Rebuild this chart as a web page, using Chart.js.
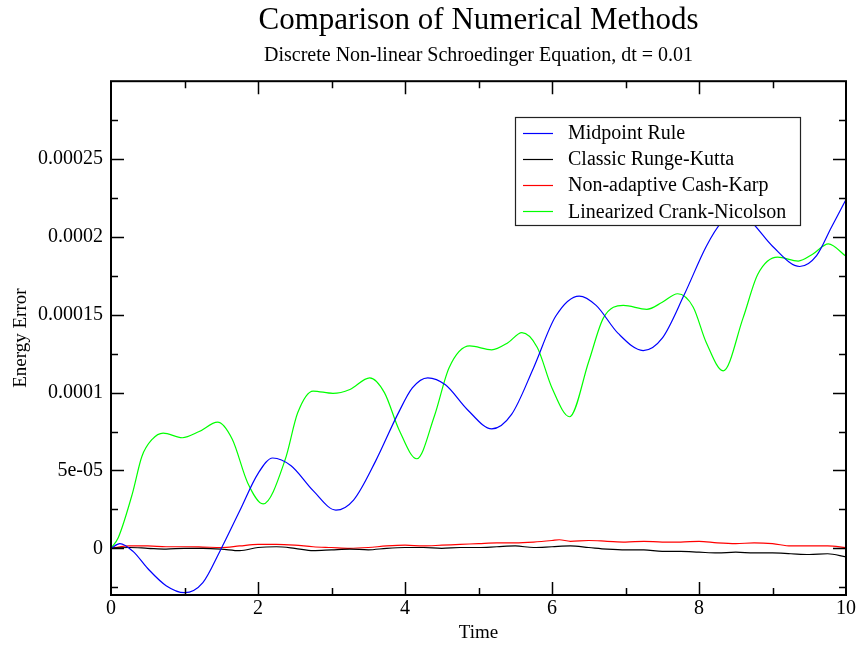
<!DOCTYPE html>
<html>
<head>
<meta charset="utf-8">
<script src="https://cdn.jsdelivr.net/npm/chart.js@4/dist/chart.umd.min.js"></script>
<style>
  html, body { margin: 0; padding: 0; background: #fff; }
  #wrap { width: 858px; height: 645px; }
</style>
</head>
<body>
<div id="wrap"><canvas id="chart" width="858" height="645"></canvas></div>
<script>
// values, energy error in units of 1e-5
const SCALE = 1e-5;

const midTime = [0, 0.12, 0.3, 0.5, 0.75, 1.0, 1.25, 1.48, 1.75, 2.0, 2.2, 2.45, 2.75, 3.06, 3.3, 3.6, 3.9, 4.1, 4.31, 4.55, 4.85, 5.18, 5.45, 5.75, 6.05, 6.37, 6.6, 6.9, 7.24, 7.5, 7.8, 8.1, 8.3, 8.5, 8.7, 9.0, 9.37, 9.6, 9.8, 10];
const midValues = [0, 0.3, -0.2, -1.3, -2.4, -2.85, -2.2, -0.2, 2.4, 4.8, 5.8, 5.3, 3.7, 2.45, 3.1, 5.6, 8.6, 10.3, 10.95, 10.5, 8.9, 7.67, 8.6, 11.6, 14.9, 16.2, 15.6, 13.8, 12.7, 13.5, 16.3, 19.4, 20.9, 21.5, 21.0, 19.4, 18.1, 18.8, 20.6, 22.4];

const rkTime = [0, 0.25, 0.5, 0.75, 1.0, 1.25, 1.5, 1.75, 2.0, 2.25, 2.5, 2.75, 3.0, 3.25, 3.5, 3.75, 4.0, 4.25, 4.5, 4.75, 5.0, 5.25, 5.5, 5.75, 6.0, 6.25, 6.5, 6.75, 7.0, 7.25, 7.5, 7.75, 8.0, 8.25, 8.5, 8.75, 9.0, 9.25, 9.5, 9.75, 10];
const rkValues = [0, 0.05, 0.0, -0.05, 0.0, 0.0, -0.05, -0.15, 0.05, 0.1, 0.0, -0.15, -0.1, -0.05, -0.1, 0.0, 0.05, 0.05, 0.0, 0.05, 0.05, 0.1, 0.15, 0.05, 0.1, 0.15, 0.05, -0.05, -0.1, -0.1, -0.2, -0.2, -0.25, -0.3, -0.25, -0.3, -0.3, -0.35, -0.4, -0.35, -0.55];

const ckTime = [0, 0.25, 0.5, 0.75, 1.0, 1.25, 1.5, 1.75, 2.0, 2.25, 2.5, 2.75, 3.0, 3.25, 3.5, 3.75, 4.0, 4.25, 4.5, 4.75, 5.0, 5.25, 5.5, 5.75, 6.0, 6.1, 6.25, 6.5, 6.75, 7.0, 7.25, 7.5, 7.75, 8.0, 8.25, 8.5, 8.75, 9.0, 9.25, 9.5, 9.75, 10];
const ckValues = [0, 0.15, 0.15, 0.1, 0.1, 0.08, 0.05, 0.15, 0.25, 0.25, 0.2, 0.1, 0.05, 0.0, 0.05, 0.15, 0.2, 0.15, 0.2, 0.25, 0.3, 0.35, 0.35, 0.4, 0.5, 0.55, 0.45, 0.5, 0.45, 0.4, 0.45, 0.4, 0.4, 0.45, 0.35, 0.3, 0.35, 0.3, 0.15, 0.15, 0.15, 0.05];

const cnTime = [0, 0.1, 0.29, 0.42, 0.56, 0.71, 0.97, 1.2, 1.45, 1.65, 1.86, 2.07, 2.37, 2.54, 2.75, 3.02, 3.25, 3.52, 3.72, 3.92, 4.16, 4.4, 4.6, 4.88, 5.18, 5.4, 5.59, 5.8, 6.0, 6.24, 6.5, 6.7, 6.97, 7.29, 7.5, 7.71, 7.92, 8.1, 8.33, 8.6, 8.8, 9.07, 9.35, 9.55, 9.76, 10];
const cnValues = [0, 0.7, 3.5, 5.9, 7.0, 7.4, 7.1, 7.5, 8.1, 7.0, 4.2, 2.85, 5.7, 8.7, 10.1, 9.95, 10.2, 10.95, 10.0, 7.6, 5.75, 8.5, 11.6, 13.0, 12.75, 13.2, 13.85, 12.9, 10.3, 8.45, 12.0, 14.8, 15.6, 15.35, 15.8, 16.35, 15.5, 13.2, 11.4, 14.8, 17.6, 18.7, 18.45, 18.9, 19.55, 18.75];

const seriesNames = ["Midpoint Rule", "Classic Runge-Kutta", "Non-adaptive Cash-Karp", "Linearized Crank-Nicolson"];
const seriesColors = ["#0000ff", "#000000", "#ff0000", "#00ff00"];

const yTickValues = [0, 5e-5, 1e-4, 1.5e-4, 2e-4, 2.5e-4];
const yTickLabels = ["0", "5e-05", "0.0001", "0.00015", "0.0002", "0.00025"];
const yMinorValues = [-2.5e-5, 2.5e-5, 7.5e-5, 1.25e-4, 1.75e-4, 2.25e-4, 2.75e-4];
const xMinorValues = [1, 3, 5, 7, 9];

const SERIF = "'Liberation Serif', 'DejaVu Serif', serif";

function toPoints(ts, vs) {
  return ts.map((t, i) => ({ x: t, y: vs[i] * SCALE }));
}

const allTimes = [midTime, rkTime, ckTime, cnTime];
const allValues = [midValues, rkValues, ckValues, cnValues];

const datasets = seriesNames.map((name, i) => ({
  label: name,
  data: toPoints(allTimes[i], allValues[i]),
  borderColor: seriesColors[i],
  backgroundColor: seriesColors[i],
  borderWidth: 1.2,
  pointRadius: 0,
  fill: false,
  cubicInterpolationMode: 'monotone'
}));

// frame, inward ticks on all four sides
const framePlugin = {
  id: 'frame',
  afterDatasetsDraw(chart) {
    const { ctx, chartArea: a, scales } = chart;
    const xs = scales.x, ys = scales.y;
    ctx.save();
    ctx.strokeStyle = '#000';
    ctx.lineWidth = 1.5;
    ctx.beginPath();
    const tick = (v, len, horiz) => {
      if (horiz) {
        const px = Math.round(xs.getPixelForValue(v)) + 0.5;
        ctx.moveTo(px, a.bottom); ctx.lineTo(px, a.bottom - len);
        ctx.moveTo(px, a.top); ctx.lineTo(px, a.top + len);
      } else {
        const py = Math.round(ys.getPixelForValue(v)) + 0.5;
        ctx.moveTo(a.left, py); ctx.lineTo(a.left + len, py);
        ctx.moveTo(a.right, py); ctx.lineTo(a.right - len, py);
      }
    };
    [2, 4, 6, 8].forEach(v => tick(v, 13, true));
    xMinorValues.forEach(v => tick(v, 7, true));
    yTickValues.forEach(v => tick(v, 13, false));
    yMinorValues.forEach(v => tick(v, 7, false));
    ctx.stroke();
    ctx.lineWidth = 2;
    ctx.strokeRect(a.left, a.top, a.right - a.left, a.bottom - a.top);
    ctx.restore();
  }
};

// legend box inside the plot
const legendPlugin = {
  id: 'boxLegend',
  afterDatasetsDraw(chart) {
    const ctx = chart.ctx;
    const bx = 515, by = 117, bw = 285, bh = 108, row = 26.3;
    ctx.save();
    ctx.fillStyle = '#fff';
    ctx.fillRect(bx, by, bw, bh);
    ctx.strokeStyle = '#222';
    ctx.lineWidth = 1.2;
    ctx.strokeRect(bx + 0.5, by + 0.5, bw, bh);
    ctx.font = '20px ' + SERIF;
    ctx.textBaseline = 'middle';
    ctx.textAlign = 'left';
    chart.data.datasets.forEach((ds, i) => {
      const y = by + 15.5 + i * row;
      ctx.strokeStyle = ds.borderColor;
      ctx.lineWidth = 1.2;
      ctx.beginPath();
      ctx.moveTo(bx + 8, Math.round(y) + 0.5);
      ctx.lineTo(bx + 38, Math.round(y) + 0.5);
      ctx.stroke();
      ctx.fillStyle = '#000';
      ctx.fillText(ds.label, bx + 53, y + 1);
    });
    ctx.restore();
  }
};

new Chart(document.getElementById('chart'), {
  type: 'line',
  data: { datasets },
  options: {
    responsive: false,
    animation: false,
    layout: { padding: { left: 0, right: 12, top: 0, bottom: 0 } },
    plugins: {
      legend: { display: false },
      tooltip: { enabled: false },
      title: {
        display: true,
        text: 'Comparison of Numerical Methods',
        fullSize: false,
        color: '#000',
        font: { family: SERIF, size: 31, weight: 'normal' },
        padding: { top: 2, bottom: 5 }
      },
      subtitle: {
        display: true,
        text: 'Discrete Non-linear Schroedinger Equation, dt = 0.01',
        fullSize: false,
        color: '#000',
        font: { family: SERIF, size: 20, weight: 'normal' },
        padding: { top: 0, bottom: 13 }
      }
    },
    scales: {
      x: {
        type: 'linear',
        min: 0, max: 10,
        grid: { display: false, drawTicks: false },
        border: { display: false },
        ticks: { stepSize: 2, color: '#000', padding: 2, maxRotation: 0, font: { family: SERIF, size: 20 } },
        title: { display: true, text: 'Time', color: '#000', font: { family: SERIF, size: 19 }, padding: { top: 0, bottom: 1 } },
        afterFit(scale) { scale.height = 50; }
      },
      y: {
        type: 'linear',
        min: -3e-5, max: 3e-4,
        grid: { display: false, drawTicks: false },
        border: { display: false },
        afterBuildTicks(scale) { scale.ticks = yTickValues.map(v => ({ value: v })); },
        ticks: {
          color: '#000', padding: 8,
          font: { family: SERIF, size: 20 },
          callback: (v) => { const k = yTickValues.findIndex(t => Math.abs(t - v) < 1e-9); return k >= 0 ? yTickLabels[k] : ''; }
        },
        title: { display: true, text: 'Energy Error', color: '#000', font: { family: SERIF, size: 19 }, padding: { top: 10, bottom: 0 } },
        afterFit(scale) { scale.width = 111; }
      }
    }
  },
  plugins: [framePlugin, legendPlugin]
});
</script>
</body>
</html>
